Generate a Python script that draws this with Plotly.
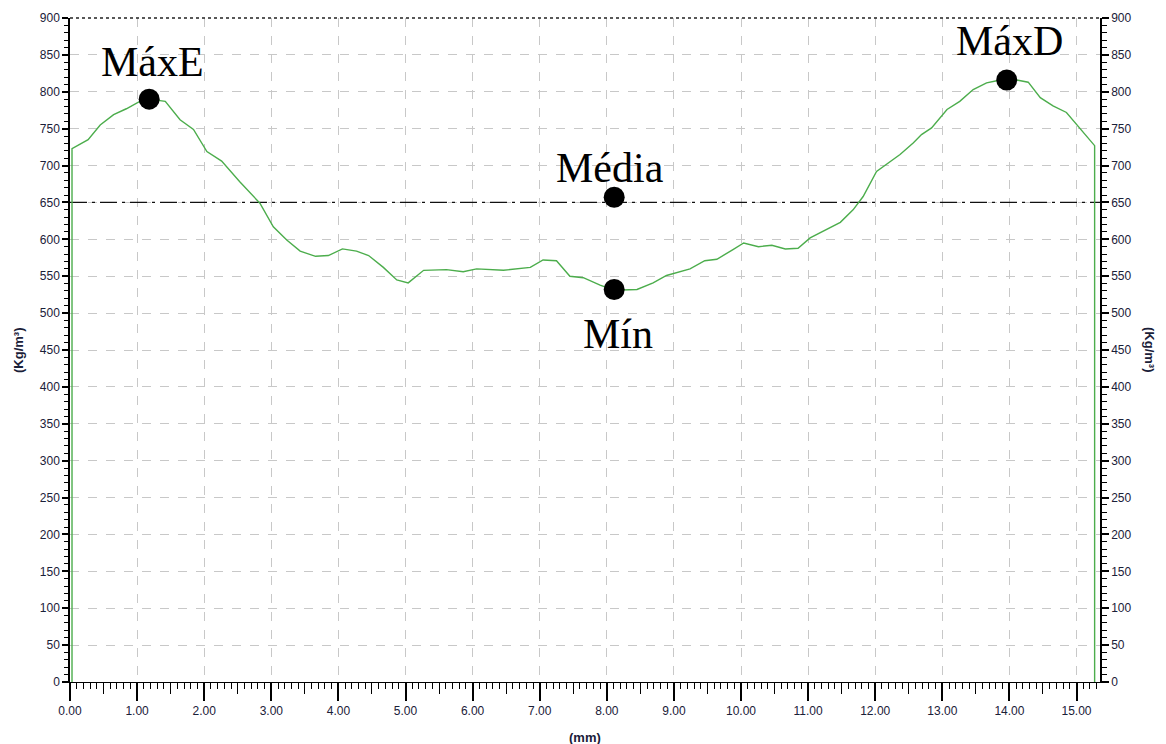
import plotly.graph_objects as go

# Density profile across the panel thickness
X_MM = [0.03, 0.03, 0.27, 0.45, 0.65, 0.84, 1.04, 1.18, 1.42, 1.64, 1.84, 2.04, 2.26,
        2.53, 2.83, 3.03, 3.23, 3.43, 3.66, 3.85, 4.06, 4.27, 4.45, 4.67, 4.87, 5.04,
        5.27, 5.61, 5.86, 6.06, 6.46, 6.86, 7.05, 7.25, 7.45, 7.65, 7.90, 8.11, 8.45,
        8.69, 8.89, 9.24, 9.46, 9.64, 9.88, 10.04, 10.26, 10.46, 10.66, 10.85, 11.03,
        11.22, 11.48, 11.67, 11.82, 12.02, 12.17, 12.37, 12.57, 12.69, 12.84, 13.07,
        13.26, 13.46, 13.66, 13.81, 14.11, 14.28, 14.46, 14.65, 14.85, 15.05, 15.27, 15.27]
DENSITY = [0, 723, 735, 755, 769, 777, 787, 790, 787, 762, 749, 719, 706,
           678, 649, 617, 599, 584, 577, 578, 587, 584, 578, 562, 545, 541,
           558, 559, 556, 560, 558, 562, 572, 571, 550, 548, 538, 531, 532,
           541, 551, 560, 571, 573, 586, 595, 590, 592, 587, 588, 602,
           611, 623, 640, 658, 692, 702, 715, 731, 742, 751, 776,
           787, 803, 812, 815, 816, 813, 792, 781, 772, 751, 727, 0]

MEAN_DENSITY = 650

# Highlighted points
POINT_LABELS = ["MáxE", "Média", "Mín", "MáxD"]
POINT_X = [1.18, 8.11, 8.11, 13.96]
POINT_Y = [790, 657, 532, 816]
LABEL_SHIFT_X = [3, -4, 4, 3]
LABEL_SHIFT_Y = [37, 29, -44, 39]

X_RANGE = [0, 15.35]
Y_RANGE = [0, 900]

TICK_FONT = dict(family="Liberation Sans, Arial, sans-serif", size=12, color="#1a2038")
GRID = "#c8c8c8"

fig = go.Figure()

fig.add_trace(go.Scatter(
    x=X_RANGE, y=[MEAN_DENSITY, MEAN_DENSITY], mode="lines",
    line=dict(color="#111111", width=1.3, dash="17px,5px,3px,5px"),
    hoverinfo="skip", showlegend=False))

fig.add_trace(go.Scatter(
    x=X_MM, y=DENSITY, mode="lines",
    line=dict(color="#4cad4c", width=1.4),
    showlegend=False))

fig.add_trace(go.Scatter(
    x=POINT_X, y=POINT_Y, mode="markers",
    marker=dict(color="black", size=21),
    showlegend=False))

# invisible trace so the overlaid secondary axes get drawn
fig.add_trace(go.Scatter(
    x=X_RANGE, y=Y_RANGE, xaxis="x2", yaxis="y2", mode="lines",
    line=dict(width=0, color="rgba(0,0,0,0)"), hoverinfo="skip", showlegend=False))

for lab, px, py, sx, sy in zip(POINT_LABELS, POINT_X, POINT_Y, LABEL_SHIFT_X, LABEL_SHIFT_Y):
    fig.add_annotation(x=px, y=py, xref="x", yref="y", text=lab, showarrow=False,
                       xanchor="center", yanchor="middle", xshift=sx, yshift=sy,
                       font=dict(family="Liberation Serif, Times New Roman, serif",
                                 size=42, color="black"))

# Axis titles
title_font = dict(family="Liberation Sans, Arial, sans-serif", size=13, color="#1a2038")
fig.add_annotation(x=0, y=0.5, xref="paper", yref="paper", text="<b>(Kg/m³)</b>",
                   textangle=-90, showarrow=False, xanchor="center", yanchor="middle",
                   xshift=-52, font=title_font)
fig.add_annotation(x=1, y=0.5, xref="paper", yref="paper", text="<b>(Kg/m³)</b>",
                   textangle=90, showarrow=False, xanchor="center", yanchor="middle",
                   xshift=50, font=title_font)
fig.add_annotation(x=0.5, y=0, xref="paper", yref="paper", text="<b>(mm)</b>",
                   showarrow=False, xanchor="center", yanchor="middle",
                   yshift=-55, font=title_font)

# Dotted top border
fig.add_shape(type="line", xref="paper", yref="paper", x0=0, x1=1, y0=1, y1=1,
              line=dict(color="#222222", width=1.5, dash="dot"))

fig.update_layout(
    width=1166, height=744,
    margin=dict(l=70, r=66, t=18, b=62),
    paper_bgcolor="white", plot_bgcolor="white",
    xaxis=dict(range=X_RANGE, dtick=1, tick0=0, tickformat=".2f",
               showgrid=True, gridcolor=GRID, griddash="dash", gridwidth=1,
               zeroline=False, showline=True, linecolor="black", linewidth=1,
               ticks="outside", ticklen=18, tickwidth=1.5, tickcolor="black",
               tickfont=TICK_FONT,
               minor=dict(dtick=0.1, tick0=0, ticks="outside", ticklen=6,
                          tickcolor="black", tickwidth=1, showgrid=False)),
    xaxis2=dict(range=X_RANGE, overlaying="x", side="bottom", anchor="y",
                dtick=0.5, tick0=0, ticks="outside", ticklen=11, tickwidth=1,
                tickcolor="black", showticklabels=False, showgrid=False,
                zeroline=False, showline=False),
    yaxis=dict(range=Y_RANGE, dtick=50, tick0=0,
               showgrid=True, gridcolor=GRID, griddash="dash", gridwidth=1,
               zeroline=False, showline=True, linecolor="black", linewidth=1.5,
               ticks="outside", ticklen=6, tickwidth=1.5, tickcolor="black",
               tickfont=TICK_FONT, ticklabelstandoff=0,
               minor=dict(dtick=10, tick0=0, ticks="outside", ticklen=4,
                          tickcolor="black", tickwidth=1, showgrid=False)),
    yaxis2=dict(range=Y_RANGE, overlaying="y", side="right", anchor="x",
                dtick=50, tick0=0, showgrid=False, zeroline=False,
                showline=True, linecolor="black", linewidth=1.5,
                ticks="outside", ticklen=7, tickwidth=1.5, tickcolor="black",
                tickfont=TICK_FONT, ticklabelstandoff=0,
                minor=dict(dtick=10, tick0=0, ticks="outside", ticklen=5,
                           tickcolor="black", tickwidth=1, showgrid=False)),
)

fig.write_html("out.html")
